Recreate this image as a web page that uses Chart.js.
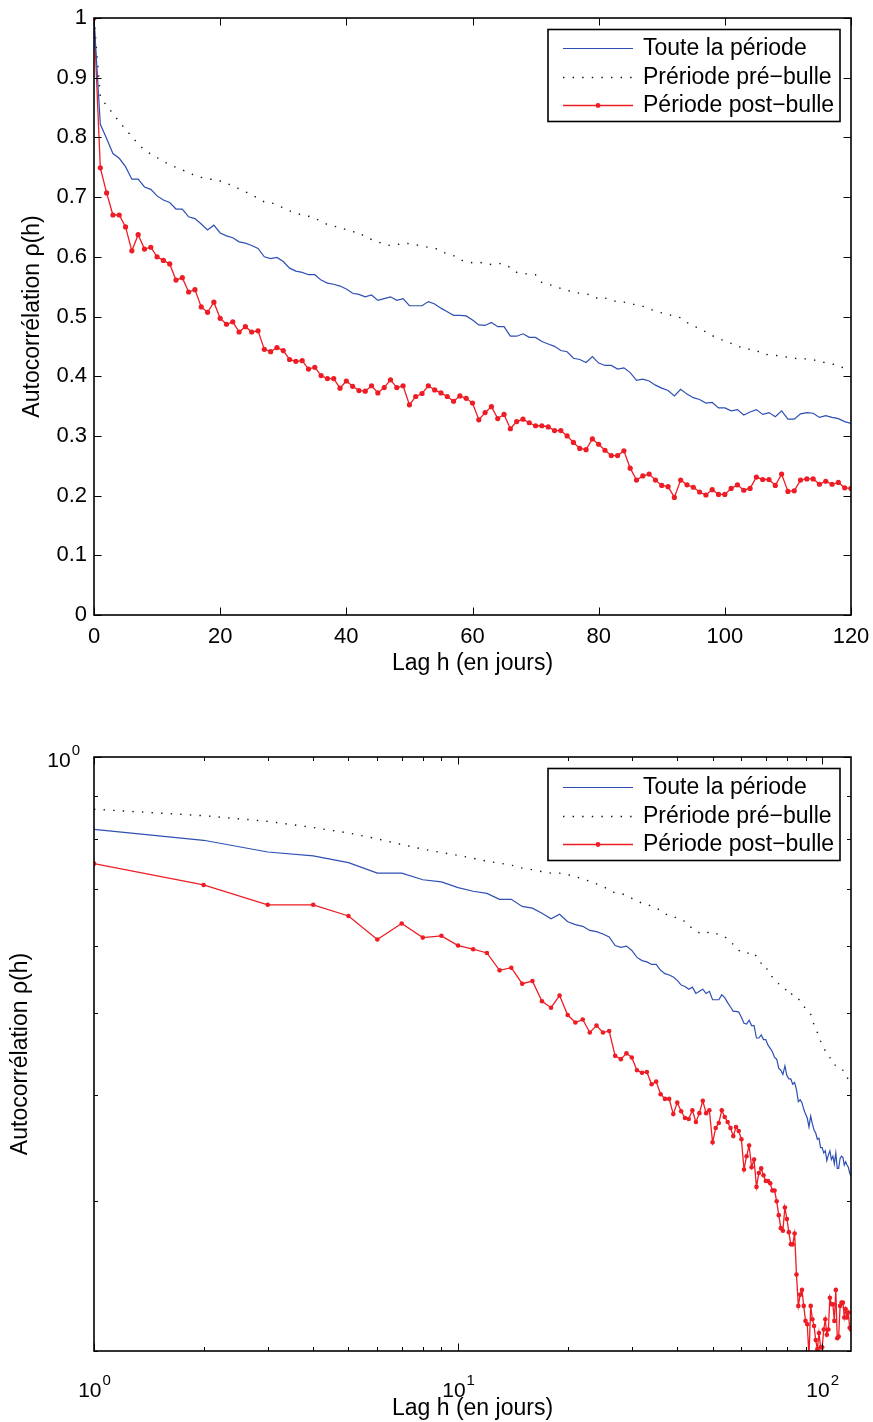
<!DOCTYPE html>
<html>
<head>
<meta charset="utf-8">
<script src="https://cdn.jsdelivr.net/npm/chart.js@4.4.1/dist/chart.umd.min.js"></script>
<style>
  body { margin: 0; background: #fff; }
  #wrap { position: relative; width: 873px; height: 1422px; }
  canvas { position: absolute; left: 0; }
</style>
</head>
<body>
<div id="wrap">
  <canvas id="linChart" width="873" height="700" style="top:0"></canvas>
  <canvas id="logChart" width="873" height="722" style="top:700px"></canvas>
</div>
<script>
// Lags h (jours) 0..120
const lags = Array.from({ length: 121 }, (_, i) => i);

// Toute la période (bleu)
const toutePeriode = [
  1.000, 0.822, 0.798, 0.773, 0.765, 0.751, 0.730, 0.730, 0.717, 0.713,
  0.702, 0.695, 0.691, 0.680, 0.680, 0.667, 0.664, 0.655, 0.645, 0.653,
  0.640, 0.635, 0.632, 0.625, 0.623, 0.619, 0.614, 0.600, 0.597, 0.599,
  0.592, 0.581, 0.576, 0.574, 0.570, 0.570, 0.561, 0.556, 0.554, 0.551,
  0.546, 0.539, 0.537, 0.533, 0.536, 0.527, 0.530, 0.533, 0.527, 0.530,
  0.518, 0.518, 0.518, 0.525, 0.521, 0.514, 0.508, 0.502, 0.502, 0.501,
  0.494, 0.486, 0.485, 0.490, 0.483, 0.483, 0.467, 0.467, 0.471, 0.465,
  0.465, 0.458, 0.454, 0.450, 0.443, 0.441, 0.430, 0.428, 0.423, 0.433,
  0.422, 0.418, 0.418, 0.412, 0.414, 0.406, 0.393, 0.395, 0.392, 0.385,
  0.380, 0.376, 0.367, 0.378, 0.370, 0.364, 0.361, 0.355, 0.356, 0.347,
  0.347, 0.342, 0.344, 0.335, 0.340, 0.344, 0.336, 0.339, 0.332, 0.342,
  0.328, 0.328, 0.337, 0.339, 0.338, 0.331, 0.334, 0.331, 0.329, 0.324,
  0.321
];

// Période pré-bulle (pointillés noirs)
const preBulle = [
  1.000, 0.868, 0.853, 0.840, 0.826, 0.814, 0.801, 0.789, 0.779, 0.772,
  0.766, 0.760, 0.754, 0.750, 0.746, 0.740, 0.737, 0.733, 0.730, 0.730,
  0.727, 0.723, 0.719, 0.714, 0.709, 0.704, 0.698, 0.692, 0.691, 0.687,
  0.682, 0.677, 0.673, 0.670, 0.668, 0.665, 0.659, 0.654, 0.651, 0.650,
  0.645, 0.642, 0.641, 0.633, 0.629, 0.625, 0.621, 0.619, 0.620, 0.623,
  0.622, 0.620, 0.618, 0.616, 0.615, 0.609, 0.605, 0.602, 0.595, 0.592,
  0.590, 0.591, 0.589, 0.587, 0.589, 0.588, 0.582, 0.574, 0.572, 0.571,
  0.570, 0.557, 0.554, 0.551, 0.547, 0.544, 0.541, 0.539, 0.538, 0.535,
  0.529, 0.531, 0.528, 0.524, 0.524, 0.522, 0.519, 0.517, 0.513, 0.509,
  0.506, 0.504, 0.500, 0.498, 0.490, 0.484, 0.480, 0.474, 0.468, 0.463,
  0.459, 0.455, 0.451, 0.446, 0.445, 0.443, 0.437, 0.436, 0.435, 0.433,
  0.432, 0.430, 0.429, 0.429, 0.428, 0.424, 0.423, 0.421, 0.416, 0.414,
  0.412
];

// Période post-bulle (rouge, points)
const postBulle = [
  1.000, 0.749, 0.707, 0.670, 0.670, 0.650, 0.610, 0.637, 0.613, 0.616,
  0.600, 0.594, 0.588, 0.561, 0.565, 0.541, 0.545, 0.516, 0.507, 0.524,
  0.497, 0.487, 0.491, 0.474, 0.483, 0.474, 0.476, 0.445, 0.441, 0.448,
  0.443, 0.428, 0.425, 0.426, 0.412, 0.415, 0.401, 0.396, 0.396, 0.380,
  0.392, 0.383, 0.376, 0.375, 0.384, 0.372, 0.381, 0.394, 0.381, 0.384,
  0.352, 0.366, 0.371, 0.384, 0.377, 0.372, 0.366, 0.358, 0.367, 0.363,
  0.355, 0.327, 0.339, 0.349, 0.329, 0.336, 0.312, 0.324, 0.328, 0.322,
  0.317, 0.317, 0.315, 0.309, 0.309, 0.300, 0.289, 0.279, 0.277, 0.295,
  0.286, 0.276, 0.267, 0.267, 0.275, 0.246, 0.226, 0.233, 0.236, 0.226,
  0.217, 0.215, 0.197, 0.226, 0.218, 0.214, 0.206, 0.201, 0.210, 0.202,
  0.202, 0.212, 0.218, 0.209, 0.212, 0.231, 0.227, 0.227, 0.217, 0.236,
  0.207, 0.208, 0.226, 0.228, 0.228, 0.219, 0.224, 0.219, 0.222, 0.213,
  0.212
];

const seriesLabels = ['Toute la période', 'Prériode pré\u2212bulle', 'Période post\u2212bulle'];
const xTitle = 'Lag h (en jours)';
const yTitle = 'Autocorrélation \u03c1(h)';

// ticks de l'échelle log
const xLogTicks = [1, 2, 3, 4, 5, 6, 7, 8, 9, 10, 20, 30, 40, 50, 60, 70, 80, 90, 100];
const yLogTicks = [0.2, 0.3, 0.4, 0.5, 0.6, 0.7, 0.8, 0.9, 1];

const BLUE = '#2e4fb3';
const RED = '#ee1c24';
const FONT = "'Liberation Sans', Arial, Helvetica, sans-serif";

Chart.defaults.font.family = FONT;
Chart.defaults.color = '#000';

const toPoints = (vals, fromLag) =>
  lags.filter((h) => h >= fromLag).map((h) => ({ x: h, y: vals[h] }));

function makeDatasets(fromLag, dotRadius) {
  return [
    {
      label: seriesLabels[0],
      data: toPoints(toutePeriode, fromLag),
      borderColor: BLUE,
      borderWidth: 1.2,
      pointRadius: 0,
      tension: 0,
    },
    {
      label: seriesLabels[1],
      data: toPoints(preBulle, fromLag),
      borderColor: '#111',
      borderWidth: 1.4,
      borderDash: [1.4, 8.2],
      pointRadius: 0,
      tension: 0,
    },
    {
      label: seriesLabels[2],
      data: toPoints(postBulle, fromLag),
      borderColor: RED,
      backgroundColor: RED,
      borderWidth: 1.3,
      pointRadius: dotRadius,
      pointBorderWidth: 0,
      tension: 0,
    },
  ];
}

// pas de marge automatique autour de la zone de tracé
const noPad = (s) => {
  s.paddingLeft = 0;
  s.paddingRight = 0;
  s.paddingTop = 0;
  s.paddingBottom = 0;
};

// cadre + graduations vers l'intérieur (style MATLAB)
const frameTicks = {
  id: 'frameTicks',
  afterDatasetsDraw(chart, args, opts) {
    const { ctx, chartArea: a, scales } = chart;
    const isMajor = (v) => !opts.log || Math.abs(Math.log10(v) - Math.round(Math.log10(v))) < 1e-9;
    ctx.save();
    ctx.strokeStyle = '#000';
    ctx.lineWidth = 1;
    ctx.beginPath();
    scales.x.ticks.forEach((t) => {
      const px = Math.round(scales.x.getPixelForValue(t.value)) + 0.5;
      const len = isMajor(t.value) ? 7.5 : 4;
      ctx.moveTo(px, a.bottom);
      ctx.lineTo(px, a.bottom - len);
      ctx.moveTo(px, a.top);
      ctx.lineTo(px, a.top + len);
    });
    scales.y.ticks.forEach((t) => {
      const py = Math.round(scales.y.getPixelForValue(t.value)) + 0.5;
      const len = isMajor(t.value) ? 7.5 : 4;
      ctx.moveTo(a.left, py);
      ctx.lineTo(a.left + len, py);
      ctx.moveTo(a.right, py);
      ctx.lineTo(a.right - len, py);
    });
    ctx.stroke();
    ctx.lineWidth = 1.6;
    ctx.strokeRect(a.left, a.top, a.right - a.left, a.bottom - a.top);
    ctx.restore();
  },
};

// étiquettes 10^n pour les axes log
const powerLabels = {
  id: 'powerLabels',
  afterDraw(chart, args, opts) {
    if (!opts.enabled) return;
    const { ctx, chartArea: a, scales } = chart;
    const base = '21px ' + FONT;
    const sup = '15px ' + FONT;
    ctx.save();
    ctx.fillStyle = '#000';
    ctx.textBaseline = 'middle';
    const draw = (e, cx, cy, alignRight) => {
      ctx.font = base;
      const w10 = ctx.measureText('10').width;
      ctx.font = sup;
      const we = ctx.measureText(String(e)).width;
      const start = alignRight ? cx - w10 - we : cx - (w10 + we) / 2;
      ctx.font = base;
      ctx.textAlign = 'left';
      ctx.fillText('10', start, cy);
      ctx.font = sup;
      ctx.fillText(String(e), start + w10 + 1, cy - 10);
    };
    scales.x.ticks.forEach((t) => {
      const e = Math.log10(t.value);
      if (Math.abs(e - Math.round(e)) > 1e-9) return;
      draw(Math.round(e), scales.x.getPixelForValue(t.value), a.bottom + 40, false);
    });
    scales.y.ticks.forEach((t) => {
      const e = Math.log10(t.value);
      if (Math.abs(e - Math.round(e)) > 1e-9) return;
      draw(Math.round(e), a.left - 15, scales.y.getPixelForValue(t.value) + 4, true);
    });
    ctx.restore();
  },
};

// légende encadrée en haut à droite
const boxLegend = {
  id: 'boxLegend',
  afterDraw(chart) {
    const { ctx, chartArea: a } = chart;
    const w = 292, h = 92;
    const left = a.right - 11 - w;
    const top = a.top + 11.5;
    ctx.save();
    ctx.fillStyle = '#fff';
    ctx.fillRect(left, top, w, h);
    ctx.strokeStyle = '#000';
    ctx.lineWidth = 1.6;
    ctx.strokeRect(left, top, w, h);
    const rows = [top + 18.5, top + 47, top + 75.5];
    chart.data.datasets.forEach((ds, i) => {
      const y = Math.round(rows[i]) + 0.5;
      ctx.beginPath();
      ctx.strokeStyle = ds.borderColor;
      ctx.lineWidth = ds.borderWidth;
      ctx.setLineDash(ds.borderDash || []);
      ctx.moveTo(left + 15, y);
      ctx.lineTo(left + 85, y);
      ctx.stroke();
      ctx.setLineDash([]);
      if (ds.pointRadius) {
        ctx.beginPath();
        ctx.fillStyle = ds.borderColor;
        ctx.arc(left + 50, y, 2.4, 0, Math.PI * 2);
        ctx.fill();
      }
      ctx.fillStyle = '#000';
      ctx.font = '23px ' + FONT;
      ctx.textAlign = 'left';
      ctx.textBaseline = 'middle';
      ctx.fillText(ds.label, left + 95, rows[i] + 1);
    });
    ctx.restore();
  },
};

const titleFont = { size: 23, family: FONT };

// Graphique 1 : échelle linéaire
new Chart(document.getElementById('linChart'), {
  type: 'line',
  data: { datasets: makeDatasets(0, 2.6) },
  options: {
    responsive: false,
    animation: false,
    layout: { padding: { left: 0, top: 18, right: 22, bottom: 0 } },
    plugins: {
      legend: { display: false },
      tooltip: { enabled: false },
      frameTicks: { log: false },
      powerLabels: { enabled: false },
    },
    scales: {
      x: {
        type: 'linear',
        min: 0,
        max: 120,
        ticks: { stepSize: 20, padding: 9, font: { size: 22 }, maxRotation: 0 },
        grid: { display: false, drawTicks: false },
        border: { display: false },
        title: { display: true, text: xTitle, font: titleFont, padding: { top: 0, bottom: 23 } },
        afterFit: (s) => { s.height = 85; noPad(s); },
      },
      y: {
        type: 'linear',
        min: 0,
        max: 1,
        ticks: {
          stepSize: 0.1,
          padding: 7,
          font: { size: 22 },
          callback: (v) => String(+v.toFixed(1)),
        },
        grid: { display: false, drawTicks: false },
        border: { display: false },
        title: { display: true, text: yTitle, font: titleFont, padding: { top: 19, bottom: 0 } },
        afterFit: (s) => { s.width = 94; noPad(s); },
      },
    },
  },
  plugins: [frameTicks, boxLegend],
});

// Graphique 2 : échelle log-log
new Chart(document.getElementById('logChart'), {
  type: 'line',
  data: { datasets: makeDatasets(1, 2.3) },
  options: {
    responsive: false,
    animation: false,
    layout: { padding: { left: 0, top: 57, right: 22, bottom: 0 } },
    plugins: {
      legend: { display: false },
      tooltip: { enabled: false },
      frameTicks: { log: true },
      powerLabels: { enabled: true },
    },
    scales: {
      x: {
        type: 'logarithmic',
        min: 1,
        max: 120,
        ticks: { display: false },
        grid: { display: false, drawTicks: false },
        border: { display: false },
        title: { display: true, text: xTitle, font: titleFont, padding: { top: 0, bottom: 0 } },
        afterBuildTicks: (s) => { s.ticks = xLogTicks.map((v) => ({ value: v })); },
        afterFit: (s) => { s.height = 71; noPad(s); },
      },
      y: {
        type: 'logarithmic',
        min: 0.2,
        max: 1,
        ticks: { display: false },
        grid: { display: false, drawTicks: false },
        border: { display: false },
        title: { display: true, text: yTitle, font: titleFont, padding: { top: 7, bottom: 0 } },
        afterBuildTicks: (s) => { s.ticks = yLogTicks.map((v) => ({ value: v })); },
        afterFit: (s) => { s.width = 94; noPad(s); },
      },
    },
  },
  plugins: [frameTicks, powerLabels, boxLegend],
});
</script>
</body>
</html>
